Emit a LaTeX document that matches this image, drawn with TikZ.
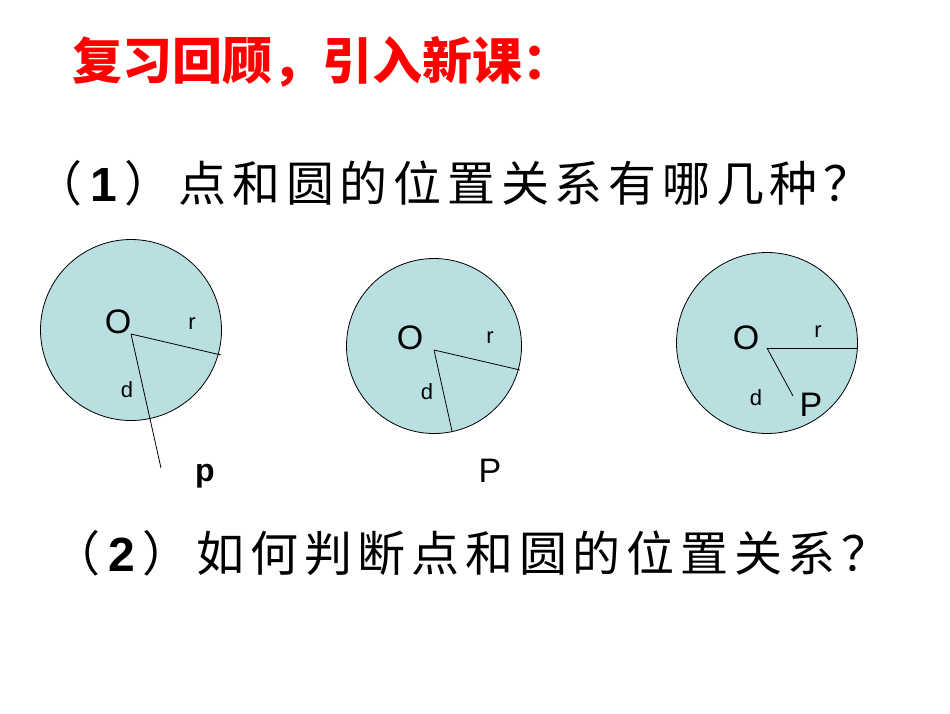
\documentclass[tikz,border=0pt]{standalone}
\usepackage{fontspec}
\setmainfont{Liberation Sans}
\newfontfamily\cjk{Noto Sans CJK SC}
\newfontfamily\cjkwide[LetterSpace=12]{Noto Sans CJK SC}
\definecolor{discfill}{RGB}{186,223,225}
\begin{document}
\begin{tikzpicture}[x=1pt,y=-1pt,
  disc/.style={draw=black,fill=discfill,line width=0.8pt},
  seg/.style={draw=black,line width=0.8pt},
  lbl/.style={inner sep=0pt,font=\fontsize{22}{24}\selectfont},
  big/.style={inner sep=0pt,font=\fontsize{34}{36}\selectfont}]
\useasboundingbox (0,0) rectangle (950,713);
\fill[white] (0,0) rectangle (950,713);
\node[anchor=west,inner sep=0pt,text=red,font=\cjk\bfseries\fontsize{50}{52}\selectfont] (title) at (72,62) {复习回顾，引入新课：};
\node[anchor=west,inner sep=0pt,font=\cjkwide\fontsize{48}{50}\selectfont] (q1) at (34,183) {（\,{\fontspec{Liberation Sans}\bfseries 1}\,）点和圆的位置关系有哪几种？};
\node[anchor=west,inner sep=0pt,font=\cjkwide\fontsize{48}{50}\selectfont] (q2) at (52,553) {（\,{\fontspec{Liberation Sans}\bfseries 2}\,）如何判断点和圆的位置关系？};
% circle 1
\node[disc,circle,minimum size=181pt,inner sep=0pt] (c1) at (131,330) {};
\coordinate (o1) at (131,334);
\coordinate (r1) at (221,355);
\coordinate (p1) at (161,468);
\draw[seg] (o1) -- (r1); \draw[seg] (o1) -- (p1);
\node[big] (O1) at (118,322) {O};
\node[lbl] (rr1) at (192,324) {r};
\node[lbl] (d1) at (127,390) {d};
\node[big,font=\bfseries\fontsize{32}{34}\selectfont] (pl1) at (205,476) {p};
% circle 2
\node[disc,circle,minimum size=175pt,inner sep=0pt] (c2) at (434,346) {};
\coordinate (o2) at (434,350);
\coordinate (r2) at (520,370);
\coordinate (p2) at (452,431);
\draw[seg] (o2) -- (r2); \draw[seg] (o2) -- (p2);
\node[big] (O2) at (410,338) {O};
\node[lbl] (rr2) at (490,338) {r};
\node[lbl] (d2) at (427,392) {d};
\node[big] (pl2) at (490,471) {P};
% circle 3
\node[disc,circle,minimum size=181pt,inner sep=0pt] (c3) at (767,343) {};
\coordinate (o3) at (767,348);
\coordinate (r3) at (858,348);
\coordinate (p3) at (793,396);
\draw[seg] (o3) -- (r3); \draw[seg] (o3) -- (p3);
\node[big] (O3) at (746,338) {O};
\node[lbl] (rr3) at (818,332) {r};
\node[lbl] (d3) at (756,398) {d};
\node[big] (pl3) at (811,405) {P};
\end{tikzpicture}
\end{document}
